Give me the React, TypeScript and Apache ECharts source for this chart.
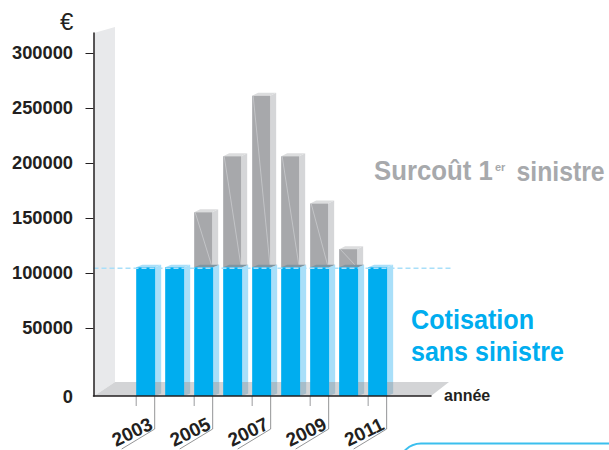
import React, { useEffect, useRef } from "react";
import * as echarts from "echarts";

const years = [2003, 2004, 2005, 2006, 2007, 2008, 2009, 2010, 2011];
const cotisation = [105000, 105000, 105000, 105000, 105000, 105000, 105000, 105000, 105000];
const surcout = [0, 0, 50000, 101000, 156000, 101000, 58000, 16500, 0];
const labelledYears = [2003, 2005, 2007, 2009, 2011];
const yTicks = [50000, 100000, 150000, 200000, 250000, 300000];
const FRONT = -12000;
const BASELINE = 105000;
const XMIN = 2001.2;
const XMAX = 2012.84;

const FONT = "Liberation Sans";
const BLUE = "#00adef";
const GRAY = "#a7a8ab";
const DX = 6;
const DY = 2.5;

function poly(points: number[][], fill: string) {
  return { type: "polygon", shape: { points }, style: { fill, stroke: "none" } };
}

function App() {
  const ref = useRef<HTMLDivElement>(null);
  useEffect(() => {
    document.body.style.margin = "0";
    const chart = echarts.init(ref.current!, null, { renderer: "svg" });

    const renderBlue = (_p: any, api: any) => {
      const [cx, top] = api.coord([api.value(0), api.value(1)]);
      const [, bottom] = api.coord([api.value(0), FRONT]);
      const x0 = cx - 9.5;
      const x1 = cx + 9.5;
      const floorY = 382;
      const hasGray = api.value(2) > 0;
      return {
        type: "group",
        children: [
          poly([[x1, top], [x1 + DX, top - DY], [x1 + DX, floorY], [x1, floorY]], "#a9dff9"),
          poly([[x1, floorY], [x1 + DX, floorY], [x1 + DX, bottom - DY], [x1, bottom]], "#a6bdca"),
          poly([[x0, top], [x0 + DX, top - DY], [x1 + DX, top - DY], [x1, top]], hasGray ? "#7f95a1" : "#a9dff9"),
          poly([[x0, top], [x1, top], [x1, bottom], [x0, bottom]], BLUE),
        ],
      };
    };

    const renderGray = (_p: any, api: any) => {
      const [cx, base] = api.coord([api.value(0), api.value(1)]);
      const [, top] = api.coord([api.value(0), api.value(1) + api.value(2)]);
      const x0 = cx - 9.5;
      const x1 = cx + 8.5;
      return {
        type: "group",
        children: [
          poly([[x1, top], [x1 + DX, top - DY - 0.5], [x1 + DX, base - DY], [x1, base]], "#d5d6d8"),
          poly([[x0, top], [x0 + DX, top - DY - 0.5], [x1 + DX, top - DY - 0.5], [x1, top]], "#dcddde"),
          poly([[x0, top], [x1, top], [x1, base], [x0, base]], GRAY),
          {
            type: "line",
            shape: { x1: x0 + 1, y1: top, x2: x1, y2: base },
            style: { stroke: "#cfd0d2", lineWidth: 0.7 },
          },
        ],
      };
    };

    const renderLeader = (_p: any, api: any) => {
      const [cx, bottom] = api.coord([api.value(0), FRONT]);
      const left = cx - 9.5;
      const right = cx + 9;
      const elbow = bottom + 33;
      return {
        type: "group",
        children: [
          { type: "line", shape: { x1: left, y1: bottom, x2: left, y2: bottom + 10 }, style: { stroke: "#9b9c9f", lineWidth: 1 } },
          {
            type: "polyline",
            shape: { points: [[right, bottom], [right, elbow], [right - 33, elbow + 20]] },
            style: { stroke: "#77787b", lineWidth: 0.8, fill: "none" },
          },
          {
            type: "text",
            x: cx - 13.5,
            y: bottom + 36,
            rotation: (26 * Math.PI) / 180,
            style: {
              text: String(api.value(0)),
              font: `bold 19px "${FONT}"`,
              fill: "#231f20",
              align: "center",
              verticalAlign: "middle",
            },
          },
        ],
      };
    };

    const renderBaseline = (_p: any, api: any) => {
      const [x0, y] = api.coord([XMIN, api.value(0)]);
      return {
        type: "line",
        shape: { x1: x0, y1: y + 1, x2: 453, y2: y + 1 },
        style: { stroke: "#a9dff9", lineWidth: 1.5, lineDash: [5, 3] },
      };
    };

    chart.setOption({
      animation: false,
      grid: { left: 93.5, right: 609 - 431, top: 33, bottom: 54 },
      xAxis: {
        type: "value",
        min: XMIN,
        max: XMAX,
        splitLine: { show: false },
        axisLine: { show: true, onZero: false, lineStyle: { color: "#231f20", width: 1.5 } },
        axisTick: { show: false },
        axisLabel: { show: false },
        z: 10,
      },
      yAxis: {
        type: "value",
        min: FRONT,
        max: 318000,
        splitLine: { show: false },
        axisLine: { show: true, onZero: false, lineStyle: { color: "#231f20", width: 1.5 } },
        axisTick: {
          show: true,
          length: 8,
          customValues: yTicks,
          lineStyle: { color: "#231f20", width: 1 },
        },
        axisLabel: {
          show: true,
          customValues: [FRONT, ...yTicks],
          formatter: (v: number) => (v === FRONT ? "0" : String(v)),
          margin: 20.5,
          fontFamily: FONT,
          fontWeight: "bold",
          fontSize: 18.3,
          color: "#231f20",
        },
        z: 10,
      },
      graphic: {
        elements: [
          { type: "polygon", z: -1, shape: { points: [[94, 33], [115, 27], [115, 382], [94, 396]] }, style: { fill: "#e8e9eb" } },
          { type: "polygon", z: -1, shape: { points: [[94, 396], [115, 382], [449, 382], [431, 396]] }, style: { fill: "#d3d4d6" } },
          { type: "text", x: 60, y: 9, style: { text: "€", font: `24px "${FONT}"`, fill: "#231f20" } },
          { type: "text", x: 374, y: 157, scaleX: 0.92, style: { text: "Surcoût 1", font: `bold 28px "${FONT}"`, fill: "#a7a9ac" } },
          { type: "text", x: 495, y: 161, style: { text: "er", font: `bold 11px "${FONT}"`, fill: "#a7a9ac" } },
          { type: "text", x: 516.5, y: 157, scaleX: 0.885, style: { text: "sinistre", font: `bold 28px "${FONT}"`, fill: "#a7a9ac" } },
          { type: "text", x: 411, y: 306, scaleX: 0.9, style: { text: "Cotisation", font: `bold 28px "${FONT}"`, fill: BLUE } },
          { type: "text", x: 411, y: 338, scaleX: 0.894, style: { text: "sans sinistre", font: `bold 28px "${FONT}"`, fill: BLUE } },
          { type: "text", x: 444, y: 387, style: { text: "année", font: `bold 16px "${FONT}"`, fill: "#231f20" } },
          { type: "rect", shape: { x: 399, y: 443.5, width: 300, height: 60, r: 22 }, style: { fill: "none", stroke: "#3bbfee", lineWidth: 2 } },
        ],
      },
      series: [
        {
          type: "custom",
          name: "Surcoût 1er sinistre",
          renderItem: renderGray,
          z: 3,
          data: years.map((y, i) => [y, cotisation[i], surcout[i]]).filter((d) => d[2] > 0),
          clip: false,
        },
        {
          type: "custom",
          name: "Cotisation sans sinistre",
          renderItem: renderBlue,
          z: 4,
          data: years.map((y, i) => [y, cotisation[i], surcout[i]]),
          clip: false,
        },
        {
          type: "custom",
          name: "Baseline",
          renderItem: renderBaseline,
          z: 5,
          encode: { y: 0 },
          data: [[BASELINE]],
          clip: false,
        },
        {
          type: "custom",
          name: "Années",
          renderItem: renderLeader,
          z: 5,
          data: labelledYears.map((y) => [y]),
          clip: false,
        },
      ],
    });
    return () => chart.dispose();
  }, []);
  return <div ref={ref} style={{ width: 609, height: 450, overflow: "hidden" }} />;
}

export default App;
